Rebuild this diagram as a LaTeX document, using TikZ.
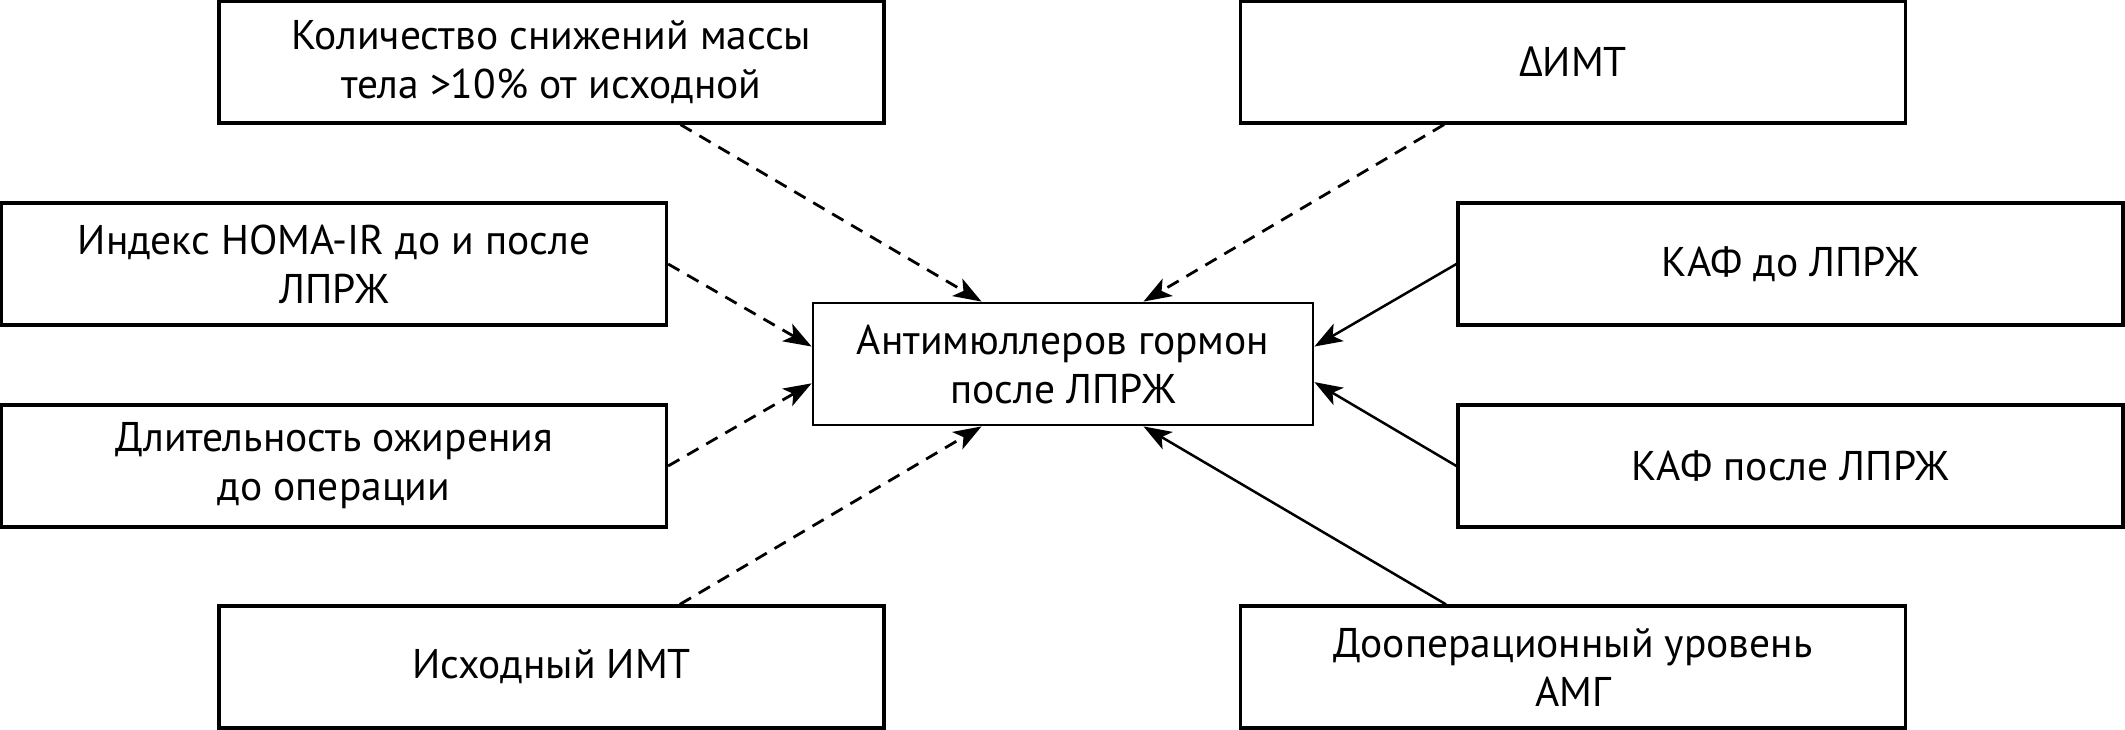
\documentclass[tikz,border=0pt]{standalone}
\usepackage{fontspec}
\setmainfont{PT Sans}
\newfontfamily\grfont{Open Sans}
\usetikzlibrary{arrows.meta,calc}
\begin{document}
\begin{tikzpicture}[x=1pt,y=-1pt,
  box/.style={draw=black,line width=3.2pt,rectangle,minimum width=665pt,minimum height=122pt,
    align=center,inner sep=0pt,font=\fontsize{41.5}{49}\selectfont},
  cbox/.style={box,line width=2.8pt,minimum width=500pt},
  dashedarrow/.style={line width=2.8pt,dash pattern=on 13pt off 9pt,
    -{Stealth[length=28pt,width=20pt,inset=7pt]}},
  solidarrow/.style={line width=2.5pt,
    -{Stealth[length=28pt,width=20pt,inset=7pt]}}]
\useasboundingbox (0,0) rectangle (2125,730);
\node[box] (tl) at (551.5,62) {Количество снижений массы\\тела >10\% от исходной};
\node[box] (tr) at (1573,62) {{\grfont Δ}ИМТ};
\node[box] (l1) at (334,264) {Индекс HOMA-IR до и после\\ЛПРЖ};
\node[box] (l2) at (334,466) {Длительность ожирения\\до операции};
\node[box] (bl) at (551.5,667) {Исходный ИМТ};
\node[box] (br) at (1573,667) {Дооперационный уровень\\АМГ};
\node[box] (r1) at (1790.5,264) {КАФ до ЛПРЖ};
\node[box] (r2) at (1790.5,466) {КАФ после ЛПРЖ};
\node[cbox] (c) at (1063,364) {Антимюллеров гормон\\после ЛПРЖ};
% start points
\coordinate (tls) at ($(tl.south west)!0.693!(tl.south east)$);
\coordinate (trs) at ($(tr.south west)!0.307!(tr.south east)$);
\coordinate (bls) at ($(bl.north west)!0.692!(bl.north east)$);
\coordinate (brs) at ($(br.north west)!0.31!(br.north east)$);
% end points on centre box
\coordinate (ct1) at ($(c.north west)!0.338!(c.north east)$);
\coordinate (ct2) at ($(c.north west)!0.66!(c.north east)$);
\coordinate (cb1) at ($(c.south west)!0.338!(c.south east)$);
\coordinate (cb2) at ($(c.south west)!0.66!(c.south east)$);
\coordinate (cl1) at ($(c.north west)!0.36!(c.south west)$);
\coordinate (cl2) at ($(c.north west)!0.655!(c.south west)$);
\coordinate (cr1) at ($(c.north east)!0.36!(c.south east)$);
\coordinate (cr2) at ($(c.north east)!0.645!(c.south east)$);
\draw[dashedarrow] (tls) -- (ct1);
\draw[dashedarrow] (trs) -- (ct2);
\draw[dashedarrow] (l1.east) -- (cl1);
\draw[dashedarrow] (l2.east) -- (cl2);
\draw[dashedarrow] (bls) -- (cb1);
\draw[solidarrow] (brs) -- (cb2);
\draw[solidarrow] (r1.west) -- (cr1);
\draw[solidarrow] (r2.west) -- (cr2);
\end{tikzpicture}
\end{document}
